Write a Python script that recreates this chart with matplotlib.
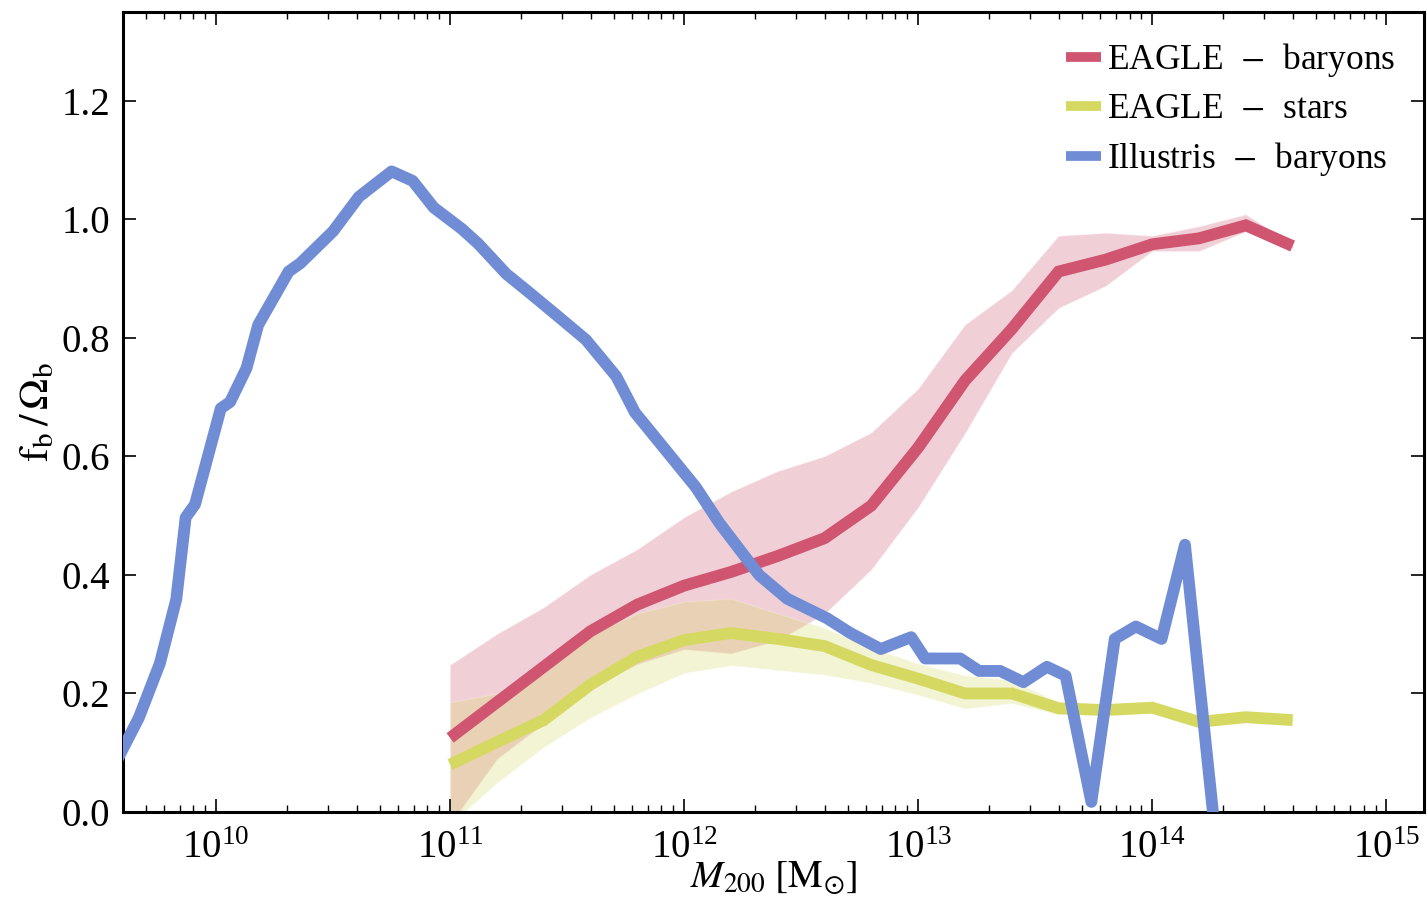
import numpy as np
import matplotlib
matplotlib.use("Agg")
import matplotlib.pyplot as plt
from matplotlib.ticker import LogLocator, FixedLocator

plt.rcParams['font.family'] = 'serif'
plt.rcParams['font.serif'] = ['Liberation Serif', 'DejaVu Serif']
plt.rcParams['mathtext.fontset'] = 'stix'

# ---- data (log10 M200 [Msun], f_b / Omega_b) ----
eagle_logm = [11.0, 11.2, 11.4, 11.6, 11.8, 12.0, 12.2, 12.4, 12.6, 12.8,
              13.0, 13.2, 13.4, 13.6, 13.8, 14.0, 14.2, 14.4, 14.6]
eagle_bar = [0.125, 0.185, 0.245, 0.305, 0.350, 0.382, 0.405, 0.432, 0.462, 0.517,
             0.615, 0.728, 0.815, 0.912, 0.932, 0.958, 0.968, 0.990, 0.955]
eagle_bar_hi = [0.248, 0.300, 0.345, 0.400, 0.443, 0.497, 0.540, 0.575, 0.600, 0.640,
                0.714, 0.822, 0.880, 0.972, 0.977, 0.972, 0.988, 1.008, 0.958]
eagle_bar_lo = [-0.02, 0.090, 0.150, 0.210, 0.250, 0.275, 0.268, 0.290, 0.335, 0.410,
                0.515, 0.640, 0.775, 0.851, 0.888, 0.947, 0.947, 0.980, 0.952]

eagle_star = [0.080, 0.118, 0.155, 0.215, 0.262, 0.290, 0.302, 0.292, 0.280, 0.248,
              0.225, 0.200, 0.200, 0.175, 0.172, 0.176, 0.152, 0.160, 0.155]
eagle_star_hi = [0.185, 0.200, 0.250, 0.300, 0.335, 0.355, 0.360, 0.335, 0.310, 0.277,
                 0.250, 0.230, 0.222, 0.185, 0.180, 0.180, 0.155, 0.163, 0.158]
eagle_star_lo = [-0.02, 0.050, 0.110, 0.160, 0.200, 0.235, 0.248, 0.240, 0.232, 0.218,
                 0.198, 0.175, 0.184, 0.165, 0.165, 0.171, 0.148, 0.156, 0.151]

illustris_logm = [9.58, 9.67, 9.76, 9.83, 9.87, 9.91, 10.02, 10.06, 10.13, 10.18,
                  10.31, 10.36, 10.50, 10.61, 10.75, 10.84, 10.93, 11.05, 11.12, 11.24,
                  11.34, 11.45, 11.58, 11.71, 11.79, 11.91, 12.05, 12.15, 12.32, 12.44,
                  12.61, 12.71, 12.84, 12.97, 13.03, 13.18, 13.26, 13.35, 13.45, 13.55,
                  13.63, 13.74, 13.84, 13.93, 14.04, 14.14, 14.27]
illustris_bar = [0.090, 0.159, 0.251, 0.359, 0.497, 0.519, 0.681, 0.692, 0.749, 0.822,
                 0.912, 0.926, 0.980, 1.038, 1.081, 1.065, 1.020, 0.984, 0.959, 0.908,
                 0.876, 0.840, 0.797, 0.735, 0.674, 0.616, 0.548, 0.488, 0.400, 0.360,
                 0.327, 0.302, 0.275, 0.295, 0.259, 0.259, 0.238, 0.238, 0.219, 0.245,
                 0.230, 0.017, 0.292, 0.313, 0.292, 0.451, -0.04]

labels = [r"EAGLE  $-$  baryons", r"EAGLE  $-$  stars", r"Illustris  $-$  baryons"]
col_red = '#D05570'
col_yel = '#D5D962'
col_blu = '#6F8CD4'

fig = plt.figure(figsize=(14.28, 9.01), dpi=100)
ax = fig.add_axes([0.0861, 0.0988, 0.9111, 0.8879])

m_e = 10.0 ** np.array(eagle_logm)
m_i = 10.0 ** np.array(illustris_logm)

ax.fill_between(m_e, eagle_bar_lo, eagle_bar_hi, color=col_red, alpha=0.28, lw=1.0,
                edgecolor='#f4d8df', zorder=1)
ax.fill_between(m_e, eagle_star_lo, eagle_star_hi, color=col_yel, alpha=0.28, lw=1.0,
                edgecolor='#f3f5d8', zorder=1)
ax.plot(m_e, eagle_bar, color=col_red, lw=8.5, label=labels[0], zorder=3,
        solid_joinstyle='miter', solid_capstyle='butt')
ax.plot(m_e, eagle_star, color=col_yel, lw=8.5, label=labels[1], zorder=3,
        solid_joinstyle='miter', solid_capstyle='butt')
ax.plot(m_i, illustris_bar, color=col_blu, lw=8.5, label=labels[2], zorder=4,
        solid_joinstyle='round')

ax.set_xscale('log')
ax.set_xlim(4e9, 1.45e15)
ax.set_ylim(0, 1.35)
ax.yaxis.set_major_locator(FixedLocator([0.0, 0.2, 0.4, 0.6, 0.8, 1.0, 1.2]))
ax.set_yticklabels(['0.0', '0.2', '0.4', '0.6', '0.8', '1.0', '1.2'])
ax.xaxis.set_major_locator(LogLocator(base=10, numticks=20))
ax.xaxis.set_minor_locator(LogLocator(base=10, subs=np.arange(2, 10), numticks=20))

for s in ax.spines.values():
    s.set_linewidth(2.2)
ax.tick_params(which='both', direction='in', top=True, right=True, labelsize=28)
ax.tick_params(which='major', length=9.5, width=1.2, pad=9)
ax.tick_params(which='minor', length=5, width=1.0)
ax.tick_params(axis='x', which='major', pad=13)

ax.set_xlabel(r'$M_{200}\ [\mathrm{M_{\odot}}]$', fontsize=28, labelpad=-5)
ax.set_ylabel(r'$\mathrm{f_b\,/\,\Omega_b}$', fontsize=30, labelpad=3)

leg = ax.legend(loc='upper right', frameon=False, fontsize=25.5, handlelength=1.0,
                handletextpad=0.15, labelspacing=0.40, borderaxespad=0.42)
for h in leg.legend_handles:
    h.set_linewidth(7)
    h.set_solid_capstyle('butt')

fig.savefig('out.png', dpi=100)
